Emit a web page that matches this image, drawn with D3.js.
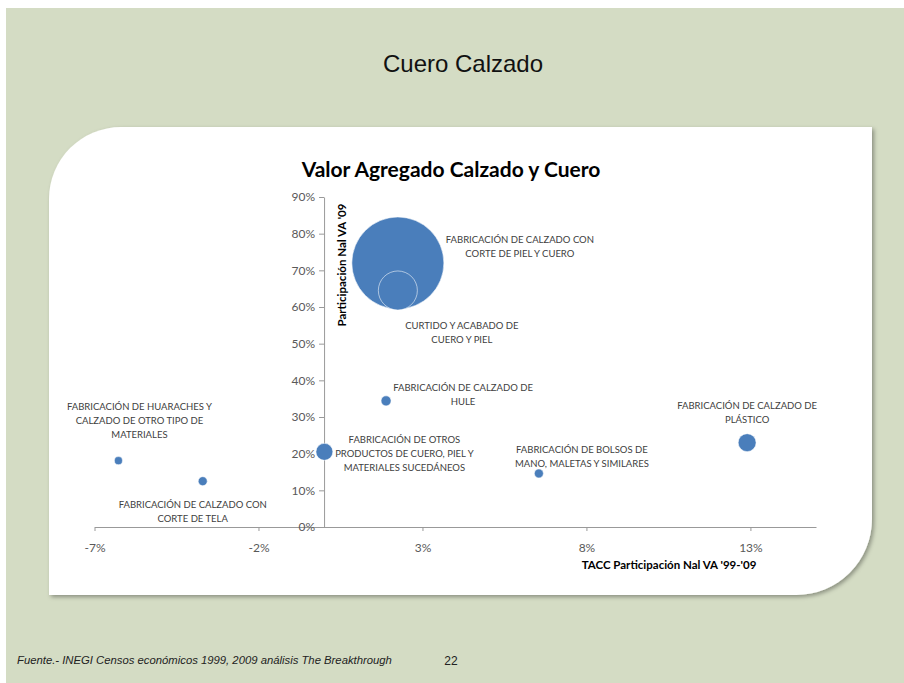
<!DOCTYPE html>
<html>
<head>
<meta charset="utf-8">
<script src="https://cdn.jsdelivr.net/npm/d3@7"></script>
<style>
  body { margin: 0; background: #fff; }
  svg { display: block; }
</style>
</head>
<body>
<div id="chart"></div>
<script>
// datos
const categories = [
  "FABRICACIÓN DE CALZADO CON|CORTE DE PIEL Y CUERO",
  "CURTIDO Y ACABADO DE|CUERO Y PIEL",
  "FABRICACIÓN DE CALZADO DE|HULE",
  "FABRICACIÓN DE OTROS|PRODUCTOS DE CUERO, PIEL Y|MATERIALES SUCEDÁNEOS",
  "FABRICACIÓN DE HUARACHES Y|CALZADO DE OTRO TIPO DE|MATERIALES",
  "FABRICACIÓN DE CALZADO CON|CORTE DE TELA",
  "FABRICACIÓN DE BOLSOS DE|MANO, MALETAS Y SIMILARES",
  "FABRICACIÓN DE CALZADO DE|PLÁSTICO"
];
const tacc = [0.0225, 0.0225, 0.0189, 0.0001, -0.0627, -0.037, 0.0655, 0.129];
const participacion = [0.72, 0.645, 0.344, 0.205, 0.181, 0.125, 0.146, 0.23];
const bubbleSize = [100, 18, 1.2, 3.4, 0.76, 0.96, 0.96, 3.8];
const xTicks = [-0.07, -0.02, 0.03, 0.08, 0.13];
const yTicks = [0, 0.1, 0.2, 0.3, 0.4, 0.5, 0.6, 0.7, 0.8, 0.9];

// desplazamiento de las etiquetas respecto a cada burbuja (px)
const labelOffsets = [[122, -23], [64, 35], [77, -13], [80, -12], [21, -54], [-10, 24], [43, -24], [0, -37]];

const W = 904, H = 683;
const svg = d3.select("#chart").append("svg")
  .attr("width", W).attr("height", H);

const defs = svg.append("defs");
const f = defs.append("filter").attr("id", "sh")
  .attr("x", "-5%").attr("y", "-5%").attr("width", "115%").attr("height", "115%");
f.append("feDropShadow").attr("dx", 2).attr("dy", 2).attr("stdDeviation", 2)
  .attr("flood-color", "#000").attr("flood-opacity", 0.35);

// fondo de la diapositiva
svg.append("rect").attr("x", 6).attr("y", 8).attr("width", W - 6).attr("height", H - 8)
  .attr("fill", "#d4dcc4");

svg.append("text").attr("x", 463).attr("y", 72).attr("text-anchor", "middle")
  .style("font-family", "'Liberation Sans', Arial, sans-serif").style("font-size", "24px")
  .attr("fill", "#111").text("Cuero Calzado");

// panel blanco con esquinas redondeadas
const pL = 49, pT = 127, pR = 872, pB = 595, r1 = 72, r2 = 76;
svg.append("path")
  .attr("d", `M${pL},${pT + r1} A${r1},${r1} 0 0 1 ${pL + r1},${pT} L${pR},${pT} L${pR},${pB - r2} A${r2},${r2} 0 0 1 ${pR - r2},${pB} L${pL},${pB} Z`)
  .attr("fill", "#fff").attr("filter", "url(#sh)");

svg.append("text").attr("x", 451).attr("y", 177).attr("text-anchor", "middle")
  .style("font-family", "Lato, 'Open Sans', sans-serif").style("font-size", "21px")
  .style("font-weight", "bold").attr("fill", "#000").text("Valor Agregado Calzado y Cuero");

// escalas
const x = d3.scaleLinear().domain([-0.07, 0.15]).range([94.5, 816]);
const y = d3.scaleLinear().domain([0, 0.9]).range([527, 197]);
const rs = d3.scaleSqrt().domain([0, 100]).range([0, 46]);

const font = "Lato, 'Open Sans', sans-serif";
const pct = v => d3.format(".0%")(v).replace("−", "-");

const xAxis = svg.append("g").attr("transform", `translate(0,${y(0)})`)
  .call(d3.axisBottom(x).tickValues(xTicks).tickFormat(pct).tickSize(4).tickSizeOuter(0).tickPadding(12));
const yAxis = svg.append("g").attr("transform", `translate(${x(0)},0)`)
  .call(d3.axisLeft(y).tickValues(yTicks).tickFormat(pct).tickSize(5).tickSizeOuter(0).tickPadding(4));

[xAxis, yAxis].forEach(a => {
  a.select(".domain").attr("stroke", "#999").attr("stroke-width", 1);
  a.selectAll(".tick line").attr("stroke", "#999");
  a.selectAll(".tick text").attr("fill", "#595959")
    .style("font-family", font).style("font-size", "12px");
});

svg.append("text").attr("x", 669).attr("y", 569).attr("text-anchor", "middle")
  .style("font-family", font).style("font-size", "11.5px").style("font-weight", "bold")
  .attr("fill", "#000").text("TACC Participación Nal VA '99-'09");

svg.append("text").attr("transform", "translate(346,265) rotate(-90)").attr("text-anchor", "middle")
  .style("font-family", font).style("font-size", "11.5px").style("font-weight", "bold")
  .attr("fill", "#000").text("Participación Nal VA '09");

// burbujas
const data = categories.map((c, i) => ({ name: c, x: tacc[i], y: participacion[i], s: bubbleSize[i], off: labelOffsets[i] }));

svg.append("g").selectAll("circle").data(data).join("circle")
  .attr("cx", d => x(d.x)).attr("cy", d => y(d.y)).attr("r", d => rs(d.s))
  .attr("fill", "#4a7ebb")
  .attr("stroke", "rgba(255,255,255,0.55)").attr("stroke-width", 1);

const lbl = svg.append("g").selectAll("text").data(data).join("text")
  .attr("text-anchor", "middle")
  .style("font-family", font).style("font-size", "9.5px").attr("fill", "#404040")
  .attr("transform", d => `translate(${x(d.x) + d.off[0]},${y(d.y) + d.off[1]})`);
lbl.selectAll("tspan").data(d => d.name.split("|")).join("tspan")
  .attr("x", 0).attr("dy", (t, i) => i === 0 ? "0.35em" : "14px").text(t => t);

// pie de pagina
svg.append("text").attr("x", 17).attr("y", 664)
  .style("font-family", "'Liberation Sans', Arial, sans-serif").style("font-size", "11.3px")
  .style("font-style", "italic").attr("fill", "#222")
  .text("Fuente.- INEGI Censos económicos 1999, 2009 análisis The Breakthrough");
svg.append("text").attr("x", 451).attr("y", 665).attr("text-anchor", "middle")
  .style("font-family", "'Liberation Sans', Arial, sans-serif").style("font-size", "12px")
  .attr("fill", "#222").text("22");
</script>
</body>
</html>
